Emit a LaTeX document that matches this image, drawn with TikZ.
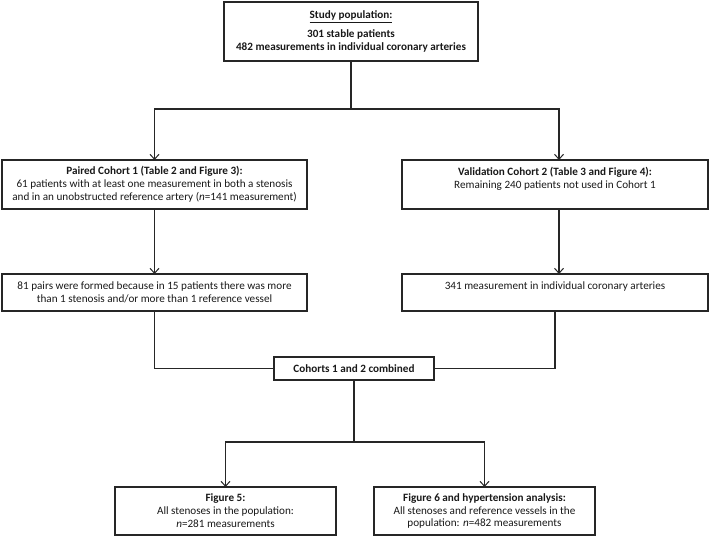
\documentclass[tikz,border=0pt]{standalone}
\usepackage{fontspec}
\setmainfont{Carlito}
\usetikzlibrary{arrows.meta}
\begin{document}
\begin{tikzpicture}[x=1bp,y=-1bp,
  box/.style={draw=black!85,line width=1.1bp,rectangle,inner sep=0pt,outer sep=0pt,align=center,
    font=\fontsize{11.2}{13}\selectfont,text=black!90},
  conn/.style={draw=black!85,line width=1.1bp},
  arr/.style={conn,-{Straight Barb[length=5bp,width=9bp,line width=1bp]}}]
\useasboundingbox (0,0) rectangle (709,537);
\fill[white] (0,0) rectangle (709,537);
\node[box,minimum width=254bp,minimum height=59bp] (top) at (351,31.5)
  {\textbf{\underline{Study population:}}\\[6bp]\textbf{301 stable patients}\\\textbf{482 measurements in individual coronary arteries}};
\node[box,minimum width=305bp,minimum height=49bp] (paired) at (154.5,184.5)
  {\textbf{Paired Cohort 1 (Table 2 and Figure 3):}\\61 patients with at least one measurement in both a stenosis\\and in an unobstructed reference artery (\textit{n}=141 measurement)};
\node[box,minimum width=306bp,minimum height=49bp] (valid) at (555,184.5)
  {\textbf{Validation Cohort 2 (Table 3 and Figure 4):}\\Remaining 240 patients not used in Cohort 1\\\mbox{}};
\node[box,minimum width=305bp,minimum height=37bp] (pairs) at (154.5,292.5)
  {81 pairs were formed because in 15 patients there was more\\than 1 stenosis and/or more than 1 reference vessel};
\node[box,minimum width=306bp,minimum height=37bp] (m341) at (555,292.5)
  {341 measurement in individual coronary arteries\\\mbox{}};
\node[box,minimum width=160bp,minimum height=23bp] (comb) at (354,368.5)
  {\textbf{Cohorts 1 and 2 combined}};
\node[box,minimum width=221bp,minimum height=48bp] (fig5) at (225.5,511)
  {\textbf{Figure 5:}\\All stenoses in the population:\\\textit{n}=281 measurements};
\node[box,minimum width=221bp,minimum height=48bp] (fig6) at (484.5,511)
  {\textbf{Figure 6 and hypertension analysis:}\\All stenoses and reference vessels in the\\population: \textit{n}=482 measurements};
\coordinate (j1) at (351,109);
\coordinate (j2) at (354,442);
\draw[conn] (top.south) -- (j1);
\draw[arr] (j1) -| (paired.north);
\draw[arr] (j1) -| ([xshift=4bp]valid.north);
\draw[arr] (paired.south) -- (pairs.north);
\draw[arr] ([xshift=4bp]valid.south) -- ([xshift=4bp]m341.north);
\draw[conn] (pairs.south) |- (comb.west);
\draw[conn] (m341.south) |- (comb.east);
\draw[conn] (comb.south) -- (j2);
\draw[arr] (j2) -| (fig5.north);
\draw[arr] (j2) -| (fig6.north);
\end{tikzpicture}
\end{document}
